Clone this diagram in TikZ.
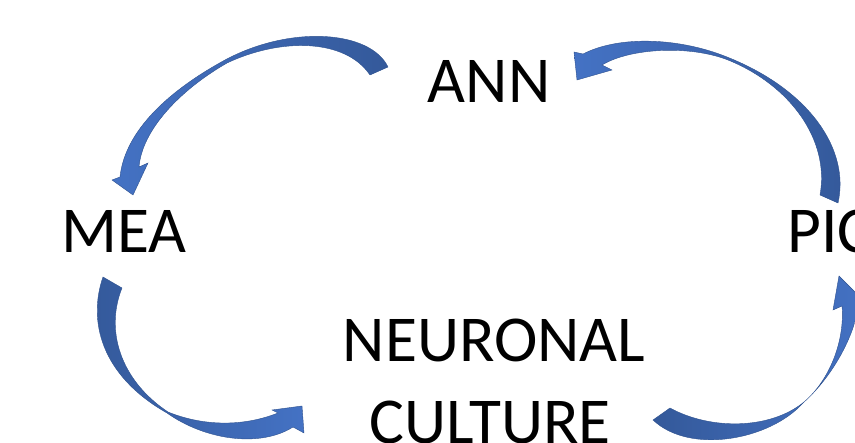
\documentclass[tikz,border=0pt]{standalone}
\usepackage{fontspec}
\setmainfont{Carlito}
\definecolor{arrdark}{RGB}{52,89,154}
\definecolor{arrlight}{RGB}{68,114,196}
\definecolor{arredge}{RGB}{47,82,143}
\begin{document}
\begin{tikzpicture}[x=1pt,y=1pt,
  lbl/.style={font=\fontsize{65.5}{82}\selectfont, inner sep=0pt, align=center, text=black},
  blockarrow/.style={draw=arredge, line width=0.4pt, line join=miter}]
\useasboundingbox (0,0) rectangle (855,-443);
\clip (0,0) rectangle (855,-443);
% labels
\node[lbl, anchor=base] (ann) at (489,-103) {ANN};
\node[lbl, anchor=base] (mea) at (124,-253) {MEA};
\node[lbl, anchor=base west] (pic) at (787,-253) {PIC};
\node[lbl, anchor=base] (neu) at (494,-362) {NEURONAL};
\node[lbl, anchor=base] (cul) at (490,-444) {CULTURE};
% ANN -> MEA
\shadedraw[blockarrow, left color=arrlight, right color=arrdark]
  (388,-67) .. controls (370,-30) and (290,-25) .. (225,-60)
  .. controls (170,-90) and (125,-130) .. (120,-177)
  -- (112,-180) -- (133,-195) -- (148,-163) -- (139,-167)
  .. controls (142,-130) and (180,-90) .. (227,-63)
  .. controls (280,-38) and (345,-38) .. (370,-75) -- cycle;
% PIC -> ANN
\shadedraw[blockarrow, left color=arrlight, right color=arrdark]
  (838,-203) .. controls (850,-150) and (810,-90) .. (727,-57)
  .. controls (680,-38) and (620,-35) .. (583,-54)
  -- (574,-52) -- (577,-80) -- (612,-70) -- (602,-65)
  .. controls (630,-48) and (690,-45) .. (728,-60)
  .. controls (790,-85) and (830,-140) .. (820,-195) -- cycle;
% MEA -> NEURONAL CULTURE
\shadedraw[blockarrow, left color=arrdark, right color=arrlight]
  (103,-277) .. controls (88,-320) and (100,-375) .. (167,-413)
  .. controls (205,-440) and (260,-448) .. (293,-427)
  -- (304,-433) -- (302,-406) -- (272,-410) -- (278,-413)
  .. controls (240,-428) and (200,-425) .. (168,-412)
  .. controls (120,-380) and (105,-330) .. (122,-288) -- cycle;
% NEURONAL CULTURE -> PIC
\shadedraw[blockarrow, left color=arrdark, right color=arrlight]
  (653,-420) .. controls (690,-455) and (770,-440) .. (803,-403)
  .. controls (840,-370) and (860,-320) .. (858,-300)
  -- (868,-305) -- (839,-276) -- (833,-310) -- (842,-306)
  .. controls (845,-340) and (830,-380) .. (804,-402)
  .. controls (770,-430) and (710,-430) .. (670,-408) -- cycle;
\end{tikzpicture}
\end{document}
